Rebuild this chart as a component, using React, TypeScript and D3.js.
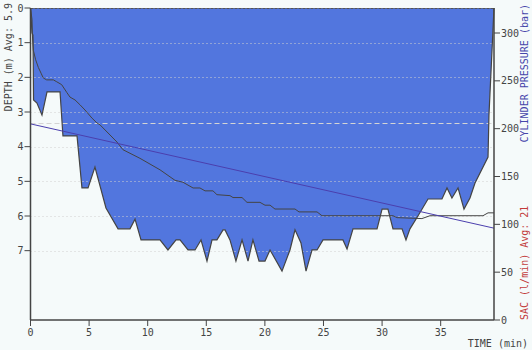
import React from "react";
import * as d3 from "d3";

// Depth profile: time (min) and depth (m)
const profileTime = [0, 0.13, 0.21, 0.26, 0.55, 0.98, 1.41, 2.52, 2.77, 3.97, 4.39, 4.91, 5.5, 6.44, 7.47, 8.49, 8.92, 9.43, 11.05, 11.73, 12.42, 12.76, 13.44, 14.04, 14.55, 15.06, 15.49, 15.91, 16.43, 16.6, 17.02, 17.53, 18.05, 18.56, 18.98, 19.5, 20.01, 20.44, 21.46, 22.14, 22.57, 23.08, 23.51, 24.02, 24.45, 24.96, 26.66, 27.01, 27.52, 29.57, 30.0, 30.5, 30.93, 31.7, 32.04, 32.38, 33.06, 33.92, 35.11, 35.54, 35.96, 36.48, 36.99, 37.5, 37.93, 39.04, 39.12, 39.55];
const profileDepth = [0, 0.72, 0.78, 2.65, 2.74, 3.09, 2.42, 2.42, 3.69, 3.69, 5.19, 5.19, 4.59, 5.77, 6.37, 6.37, 6.09, 6.69, 6.69, 6.98, 6.69, 6.69, 6.98, 6.98, 6.69, 7.3, 6.69, 6.69, 6.4, 6.4, 6.69, 7.3, 6.69, 7.3, 6.69, 7.3, 7.3, 6.98, 7.59, 6.98, 6.4, 6.78, 7.59, 6.98, 6.98, 6.69, 6.69, 6.95, 6.37, 6.37, 5.8, 5.8, 6.37, 6.37, 6.69, 6.37, 6.0, 5.51, 5.51, 5.19, 5.48, 5.19, 5.8, 5.48, 5.05, 4.3, 3.09, 0];

// SAC-style curve (right axis units)
const sacTime = [0, 0.13, 0.15, 0.24, 0.44, 0.67, 0.9, 1.09, 1.38, 1.95, 2.24, 2.66, 3.09, 3.37, 3.8, 4.22, 4.65, 5.25, 5.67, 5.93, 7.38, 7.89, 9.34, 11.05, 12.33, 13.01, 13.87, 14.46, 14.89, 15.57, 15.91, 17.02, 17.28, 18.05, 18.47, 19.58, 20.01, 20.44, 20.86, 22.57, 22.91, 24.45, 24.87, 30.93, 31.28, 33.4, 34.09, 38.61, 39.04, 39.55];
const sacValue = [326, 314, 300, 282, 272, 264, 258, 253, 251, 251, 249, 246, 238, 233, 230, 225, 219.5, 211, 206, 204, 186, 178, 169, 157, 146, 144, 138, 138, 135, 135, 131, 130, 128, 128, 123, 123, 120, 120, 116, 116, 113, 113, 109, 109, 107, 106, 109, 109, 112, 112];

// Cylinder pressure (bar)
const pressureTime = [0, 39.55];
const pressureValue = [205, 96];
const startPressure = 206;

const depthTicks = [0, 1, 2, 3, 4, 5, 6, 7];
const timeTicks = [0, 5, 10, 15, 20, 25, 30, 35];
const rightTicks = [0, 50, 100, 150, 200, 250, 300];

const W = 532;
const H = 350;
const L = 30.5;
const R = 494;
const T = 8;
const B = 320;

const FONT = "'DejaVu Sans Mono', monospace";
const BG = "#f5fafa";
const AXIS = "#444444";

export default function App() {
  const x = d3.scaleLinear().domain([0, 39.55]).range([L, R]);
  const yD = d3.scaleLinear().domain([0, 9]).range([T, B]);
  const yR = d3.scaleLinear().domain([0, 300]).range([B, 33]);

  const profile = profileTime.map((t, i) => [t, profileDepth[i]] as [number, number]);
  const sac = sacTime.map((t, i) => [t, sacValue[i]] as [number, number]);
  const press = pressureTime.map((t, i) => [t, pressureValue[i]] as [number, number]);

  const area = d3
    .area<[number, number]>()
    .x((d) => x(d[0]))
    .y0(yD(0))
    .y1((d) => yD(d[1]));
  const depthLine = d3
    .line<[number, number]>()
    .x((d) => x(d[0]))
    .y((d) => yD(d[1]));
  const rLine = d3
    .line<[number, number]>()
    .x((d) => x(d[0]))
    .y((d) => yR(d[1]));

  return (
    <svg
      width={W}
      height={H}
      style={{ position: "absolute", left: 0, top: 0, background: BG }}
      fontFamily={FONT}
      fontSize={10}
    >
      <rect x={0} y={0} width={W} height={H} fill={BG} />
      <path d={area(profile) || ""} fill="#5276de" />
      {depthTicks.slice(1).map((d) => (
        <line
          key={"g" + d}
          x1={L}
          x2={R}
          y1={Math.round(yD(d)) + 0.5}
          y2={Math.round(yD(d)) + 0.5}
          stroke="#d0d0d0"
          strokeDasharray="1,3"
        />
      ))}
      <line
        x1={L}
        x2={R}
        y1={Math.round(yR(startPressure)) + 0.5}
        y2={Math.round(yR(startPressure)) + 0.5}
        stroke="#d4d4d4"
        strokeDasharray="5,3"
      />
      <path d={depthLine(profile) || ""} fill="none" stroke={AXIS} strokeWidth={1.2} />
      <path d={rLine(sac) || ""} fill="none" stroke={AXIS} strokeWidth={1} />
      <path d={rLine(press) || ""} fill="none" stroke="#4b3fae" strokeWidth={1} />
      <line x1={L} x2={R} y1={T + 0.5} y2={T + 0.5} stroke="#555" strokeDasharray="3,1" />
      {/* axes */}
      <line x1={L} x2={L} y1={T} y2={B} stroke={AXIS} strokeWidth={1.5} />
      <line x1={R} x2={R} y1={T} y2={B} stroke={AXIS} strokeWidth={1.5} />
      <line x1={L} x2={R} y1={B} y2={B} stroke={AXIS} strokeWidth={1.5} />
      {depthTicks.map((d) => (
        <g key={"d" + d}>
          <line x1={L - 6} x2={L} y1={yD(d)} y2={yD(d)} stroke={AXIS} />
          <text x={L - 7} y={yD(d) + 3.5} textAnchor="end" fill={AXIS}>
            {d}
          </text>
        </g>
      ))}
      {timeTicks.map((t) => (
        <g key={"t" + t}>
          <line x1={x(t)} x2={x(t)} y1={B} y2={B + 6} stroke={AXIS} />
          <text x={x(t)} y={336} textAnchor="middle" fill={AXIS}>
            {t}
          </text>
        </g>
      ))}
      {rightTicks.map((v) => (
        <g key={"r" + v}>
          <line x1={R} x2={R + 6} y1={yR(v)} y2={yR(v)} stroke={AXIS} />
          <text x={R + 7} y={yR(v) + 3.5} textAnchor="start" fill={AXIS}>
            {v}
          </text>
        </g>
      ))}
      <text x={528} y={347} textAnchor="end" fill={AXIS}>
        TIME (min)
      </text>
      <text transform="translate(12,3) rotate(-90)" textAnchor="end" fill={AXIS}>
        DEPTH (m) Avg: 5.9
      </text>
      <text transform="translate(528,4) rotate(-90)" textAnchor="end" fill="#4545aa">
        CYLINDER PRESSURE (bar)
      </text>
      <text transform="translate(528,320) rotate(-90)" textAnchor="start" fill="#c23a3a">
        SAC (l/min) Avg: 21
      </text>
    </svg>
  );
}
